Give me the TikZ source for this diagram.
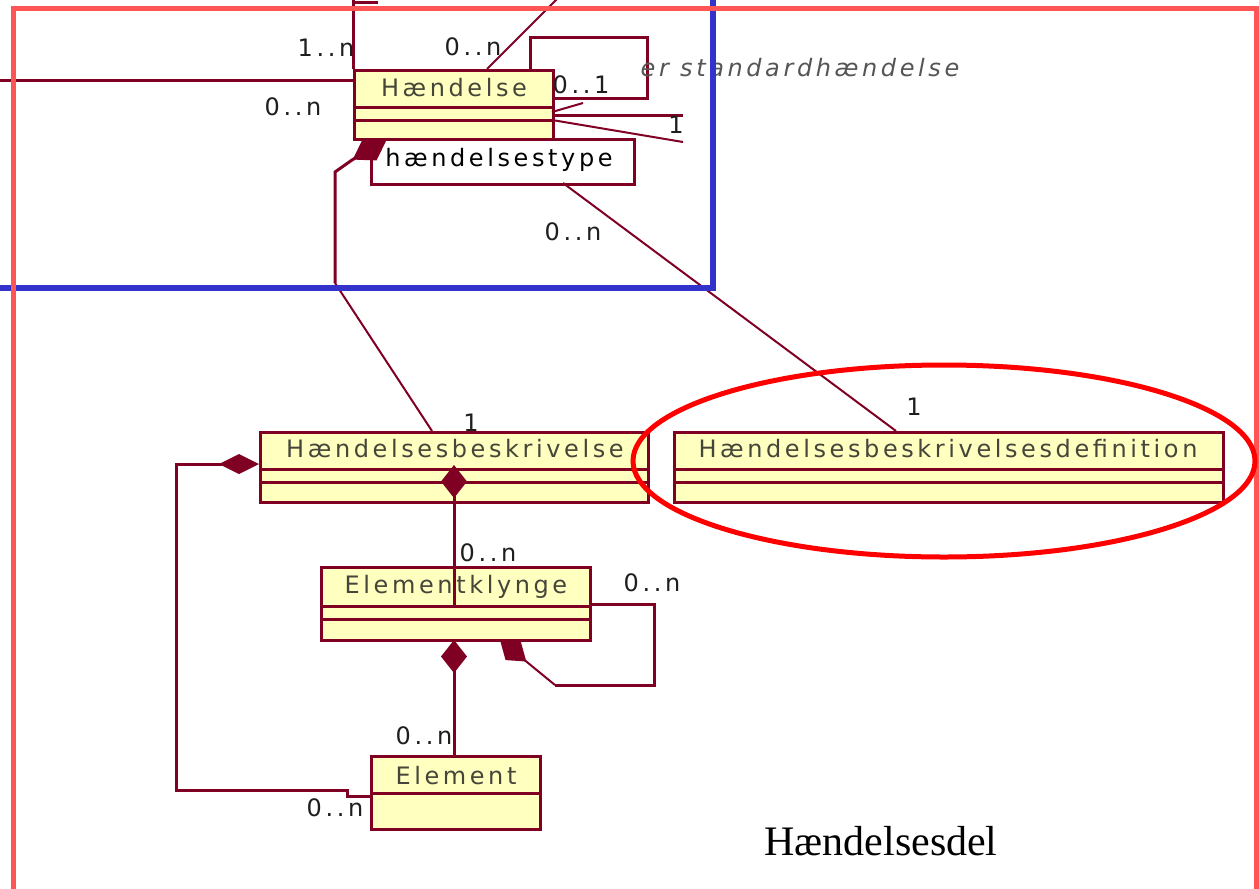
\documentclass[tikz,border=0pt]{standalone}
\usepackage{fontspec}
\setmainfont{Liberation Serif}
\newfontfamily\umlfont[LetterSpace=15]{DejaVu Sans}
\usetikzlibrary{arrows.meta}
\definecolor{umlred}{HTML}{800024}
\definecolor{umlfill}{HTML}{FFFFC0}
\definecolor{namegray}{HTML}{45453A}
\definecolor{multgray}{HTML}{1E1E1E}
\definecolor{rolegray}{HTML}{555555}
\definecolor{framepink}{HTML}{FF5555}
\definecolor{frameblue}{HTML}{3333CC}
\definecolor{ovalred}{HTML}{FF0000}
\begin{document}
\begin{tikzpicture}[x=0.5pt,y=-0.5pt,
  cls/.style={draw=umlred, fill=umlfill, line width=1.5pt, inner sep=0pt, anchor=north west},
  conn/.style={draw=umlred, line width=1.5pt},
  thinconn/.style={draw=umlred, line width=1pt},
  cname/.style={font=\umlfont\fontsize{12}{14}\selectfont, text=namegray, inner sep=0pt},
  mult/.style={font=\umlfont\fontsize{12}{14}\selectfont, text=multgray, inner sep=0pt},
  compv/.style={{Diamond[length=16.5pt,width=13pt]}-},
  comph/.style={{Diamond[length=20pt,width=10pt]}-}
]
\useasboundingbox (0,0) rectangle (1259,889);
\clip (0,0) rectangle (1259,889);

% ---------- class boxes ----------
\node[cls, minimum width=99.5pt, minimum height=34.5pt] (hae) at (353,69) {};
\node[cls, fill=white, minimum width=131.5pt, minimum height=22.5pt] (htype) at (370,138) {};
\node[cls, minimum width=194pt, minimum height=35pt] (hb) at (259,431) {};
\node[cls, minimum width=274.5pt, minimum height=35pt] (hbd) at (673,431) {};
\node[cls, minimum width=134.5pt, minimum height=36.5pt] (ek) at (320,566) {};
\node[cls, minimum width=84.5pt, minimum height=36.5pt] (el) at (370,755) {};

% compartment dividers
\draw[conn] (353,107) -- (552,107) (353,120) -- (552,120);
\draw[conn] (259,469) -- (647,469) (259,482) -- (647,482);
\draw[conn] (673,469) -- (1222,469) (673,482) -- (1222,482);
\draw[conn] (320,606) -- (589,606) (320,619) -- (589,619);
\draw[conn] (370,793) -- (539,793);

% class names
\node[cname] (haeT) at (454,88) {Hændelse};
\node[cname, text=black] (htypeT) at (499,160) {hændelsestype};
\node[cname] (hbT) at (455,449) {Hændelsesbeskrivelse};
\node[cname] (hbdT) at (948,449) {Hændelsesbeskrivelsesdefinition};
\node[cname] (ekT) at (456,587) {Elementklynge};
\node[cname] (elT) at (456,776) {Element};

% ---------- coordinates ----------
\coordinate (topA) at (353,-2);
\coordinate (topA2) at (378,2);
\coordinate (haeTop) at (487,69);
\coordinate (topB) at (558,-2);
\coordinate (leftA) at (-2,80);
\coordinate (haeL) at (353,80);
\coordinate (selfA) at (530,69);
\coordinate (selfB) at (647,37);
\coordinate (selfC) at (552,98);
\coordinate (rS1) at (552,112);
\coordinate (rE1) at (583,103);
\coordinate (rS2) at (552,115);
\coordinate (rE2) at (683,115);
\coordinate (rS3) at (552,120);
\coordinate (rE3) at (683,142);
\coordinate (haeD) at (387,139);
\coordinate (haeD2) at (352,160);
\coordinate (bendA) at (335,172);
\coordinate (bendB) at (335,283);
\coordinate (hbTop) at (432,431);
\coordinate (htBot) at (563,183);
\coordinate (hbdTop) at (896,431);
\coordinate (hbD) at (454,465);
\coordinate (ekH) at (454,606);
\coordinate (hbLeft) at (259,464);
\coordinate (elLeft) at (370,796);
\coordinate (ekD) at (454,640);
\coordinate (elTop) at (454,755);
\coordinate (ekR) at (589,604);
\coordinate (ekSelfEnd) at (555,685);
\coordinate (ekD2) at (500,640);

% ---------- connectors ----------
\draw[conn] (hae.north west) -- (topA);
\draw[conn] (topA |- topA2) -- (topA2);
\draw[thinconn] (haeTop) -- (topB);
\draw[conn] (leftA) -- (haeL);
\draw[conn] (selfA) |- (selfB) |- (selfC);
\draw[thinconn] (rS1) -- (rE1);
\draw[conn] (rS2) -- (rE2);
\draw[thinconn] (rS3) -- (rE3);
\draw[conn, {Diamond[length=20pt,width=13pt]}-] (haeD) -- (haeD2) -- (bendA) -- (bendB);
\draw[thinconn] (bendB) -- (hbTop);
\draw[thinconn] (htBot) -- (hbdTop);
\draw[conn, compv] (hbD) -- (ekH);
\draw[conn, comph] (hbLeft) -- (176,464) -- (176,790) -- (347,790) -- (347,796) -- (elLeft);
\draw[conn, compv] (ekD) -- (elTop);
\draw[conn] (ekR) -- (654,604) -- (654,685) -- (ekSelfEnd);
\draw[thinconn, {Diamond[length=17pt,width=12pt]}-] (ekD2) -- (ekSelfEnd);

% ---------- multiplicities ----------
\node[mult] (m1) at (326,48) {1..n};
\node[mult] (m2) at (293,107) {0..n};
\node[mult] (m3) at (473,47) {0..n};
\node[mult] (m4) at (581,85) {0..1};
\node[mult] (m5) at (676,125) {1};
\node[mult] (m6) at (573,232) {0..n};
\node[mult] (m7) at (471,423) {1};
\node[mult] (m8) at (914,407) {1};
\node[mult] (m9) at (488,553) {0..n};
\node[mult] (m10) at (652,583) {0..n};
\node[mult] (m11) at (424,736) {0..n};
\node[mult] (m12) at (335,808) {0..n};
\node[mult, font=\umlfont\itshape\fontsize{12}{14}\selectfont, text=rolegray] (role) at (800,68) {er standardhændelse};

% ---------- overlays ----------
\draw[frameblue, line width=3pt] (-20,-20) rectangle (713,288);
\draw[framepink, line width=2.5pt] (13,8) rectangle (1256,930);
\draw[ovalred, line width=2.5pt] (944,461) ellipse [x radius=155.5pt, y radius=48pt];

\node[font=\fontsize{21}{25}\selectfont, anchor=base, inner sep=0pt] (title) at (881,855) {Hændelsesdel};
\end{tikzpicture}
\end{document}
